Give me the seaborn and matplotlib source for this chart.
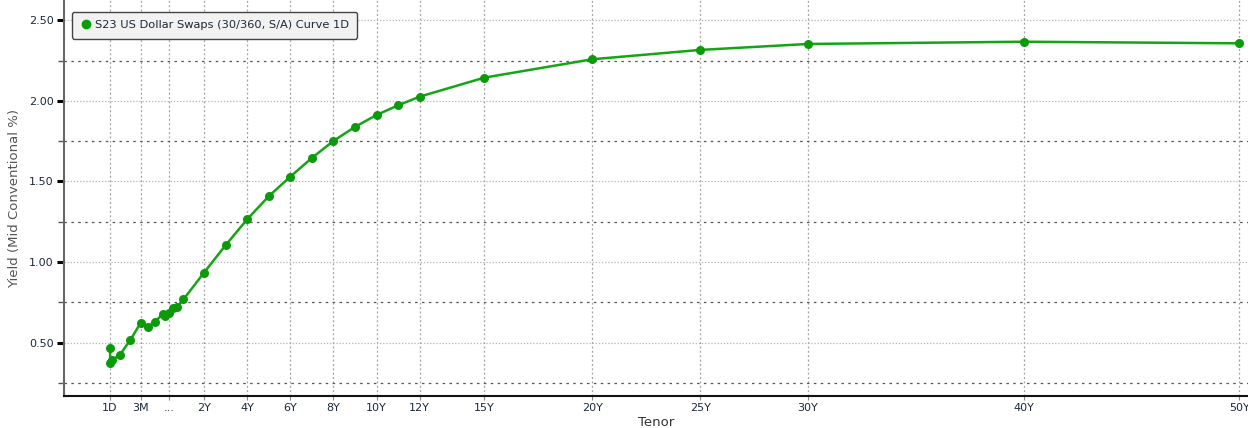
import numpy as np
import pandas as pd
import matplotlib
matplotlib.use("Agg")
import matplotlib.pyplot as plt
import seaborn as sns
from matplotlib.lines import Line2D
from matplotlib.ticker import FixedLocator, MultipleLocator, FormatStrFormatter

# Datos de la curva (tenor en años, rendimiento en %)
tenor_years = [1/365, 2/365, 7/365, 1/12, 2/12, 3/12,
               0.436, 0.629, 0.828, 0.907, 1.014, 1.10, 1.229, 1.414,
               2, 3, 4, 5, 6, 7, 8, 9, 10, 11, 12, 15, 20, 25, 30, 40, 50]
yields = [0.468, 0.371, 0.391, 0.425, 0.516, 0.623,
          0.598, 0.627, 0.677, 0.665, 0.685, 0.716, 0.722, 0.768,
          0.934, 1.104, 1.265, 1.408, 1.530, 1.646, 1.752, 1.839, 1.913, 1.973, 2.027,
          2.145, 2.259, 2.317, 2.354, 2.368, 2.358]

tick_years = [1/365, 0.25, 1, 2, 4, 6, 8, 10, 12, 15, 20, 25, 30, 40, 50]
tick_labels = ["1D", "3M", "...", "2Y", "4Y", "6Y", "8Y", "10Y", "12Y",
               "15Y", "20Y", "25Y", "30Y", "40Y", "50Y"]

serie = "S23 US Dollar Swaps (30/360, S/A) Curve 1D"
df = pd.DataFrame({"Tenor": tenor_years, "Yield": yields})

# Eje de tenor por tramos (estilo Bloomberg)
k_yrs = np.array([-1, 1/365, 0.25, 1, 2, 60])
k_pos = np.array([110 - 124.16 * (1 + 1/365), 110, 140.7, 169, 204, 204 + 58 * 21.57])

def fwd(x):
    return np.interp(x, k_yrs, k_pos)

def inv(p):
    return np.interp(p, k_pos, k_yrs)

verde = "#14a514"

fig = plt.figure(figsize=(12.48, 4.28), dpi=100)
ax = fig.add_axes([63.5/1248, 32/428, 1 - 63.5/1248, 396/428])
ax.set_xscale("function", functions=(fwd, inv))

sns.lineplot(data=df, x="Tenor", y="Yield", ax=ax, color=verde, linewidth=1.8,
             marker="o", markersize=6.5, markeredgewidth=0, markerfacecolor="#0a9a0a",
             estimator=None, sort=True, legend=False)

ax.set_xlim(inv(63.5), inv(1248))
ax.set_ylim(0.168, 2.627)

ax.xaxis.set_major_locator(FixedLocator(tick_years))
ax.set_xticklabels(tick_labels)
ax.xaxis.set_minor_locator(FixedLocator([]))
ax.yaxis.set_major_locator(MultipleLocator(0.5))
ax.yaxis.set_minor_locator(MultipleLocator(0.25))
ax.yaxis.set_major_formatter(FormatStrFormatter("%.2f"))

ax.grid(True, axis="x", which="major", color="#a0a0a0", linestyle=(0, (1.5, 2)), linewidth=0.9)
ax.grid(True, axis="y", which="major", color="#b4b4b4", linestyle=(0, (1, 1.5)), linewidth=0.9)
ax.grid(True, axis="y", which="minor", color="#555555", linestyle=(0, (2, 3.5)), linewidth=0.9)

ax.tick_params(axis="y", which="major", direction="out", length=5, width=2.2,
               color="black", labelsize=8, labelcolor="#1c2838", pad=2)
ax.tick_params(axis="y", which="minor", direction="out", length=4, width=1, color="#555555")
ax.tick_params(axis="x", which="major", direction="out", length=3, width=0.8,
               color="#888888", labelsize=8, labelcolor="#1c2838", pad=2)

for s in ["top", "right"]:
    ax.spines[s].set_visible(False)
ax.spines["left"].set_color("#666666")
ax.spines["left"].set_linewidth(1.5)
ax.spines["bottom"].set_color("#111111")
ax.spines["bottom"].set_linewidth(1.5)

ax.set_xlabel("Tenor", fontsize=9.5, color="#333333", labelpad=2)
ax.set_ylabel("Yield (Mid Conventional %)", fontsize=9.5, color="#555555", labelpad=6)

handle = Line2D([], [], marker="o", linestyle="none", color="#0a9a0a", markersize=6)
leg = ax.legend(handles=[handle], labels=[serie], loc="upper left",
                bbox_to_anchor=(0.002, 0.985), fontsize=8.2, frameon=True, fancybox=True,
                handletextpad=0.3, borderpad=0.75, handlelength=1.0)
leg.get_frame().set_facecolor("#f2f2f2")
leg.get_frame().set_edgecolor("#444444")
leg.get_frame().set_alpha(1)
for t in leg.get_texts():
    t.set_color("#1c2838")

fig.savefig("out.png", dpi=100)
